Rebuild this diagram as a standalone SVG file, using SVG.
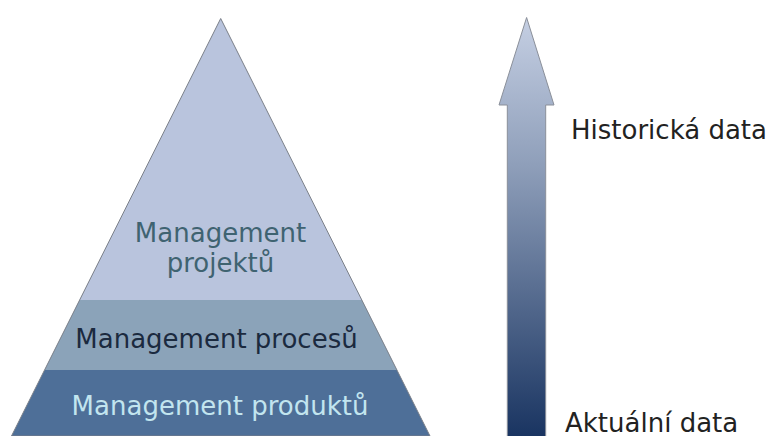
<svg xmlns="http://www.w3.org/2000/svg" width="773" height="436" viewBox="0 0 773 436">
<defs>
<linearGradient id="arrowGrad" x1="0" y1="0" x2="0" y2="1">
<stop offset="0" stop-color="#c5cfe3"/>
<stop offset="0.35" stop-color="#8f9fba"/>
<stop offset="1" stop-color="#193461"/>
</linearGradient>
<clipPath id="pyrClip"><polygon points="220.7,18.5 11.5,436 430,436"/></clipPath>
</defs>
<style>
text{font-family:"DejaVu Sans","Verdana",sans-serif;font-size:26px}
.lbl{fill:#222222}
.mid{text-anchor:middle}
</style>
<rect width="773" height="436" fill="#ffffff"/>
<g id="pyramid">
<g clip-path="url(#pyrClip)">
<rect id="layer-top" x="0" y="0" width="440" height="300" fill="#b9c4dd"/>
<rect id="layer-mid" x="0" y="300" width="440" height="70" fill="#8ba3b9"/>
<rect id="layer-bottom" x="0" y="370" width="440" height="66" fill="#4e6f98"/>
</g>
<polygon points="220.7,18.5 11.5,436 430,436" fill="none" stroke="#7a7f88" stroke-width="1"/>
</g>
<g id="node-projekty">
<text class="mid" x="220.5" y="242" fill="#3f6371">Management</text>
<text class="mid" x="220.5" y="272" fill="#3f6371">projektů</text>
</g>
<g id="node-procesy">
<text class="mid" x="216.5" y="348" fill="#1b2a3f">Management procesů</text>
</g>
<g id="node-produkty">
<text class="mid" x="220" y="415" fill="#c2e5ef">Management produktů</text>
</g>
<g id="connectors">
<polygon id="time-arrow" points="526.6,17.5 554,105 545.7,105 545.7,437 507.3,437 507.3,105 499,105" fill="url(#arrowGrad)" stroke="#8a8f99" stroke-width="1"/>
</g>
<g id="label-historicka">
<text class="lbl" x="571" y="138.5">Historická data</text>
</g>
<g id="label-aktualni">
<text class="lbl" x="565" y="431.5">Aktuální data</text>
</g>
</svg>
